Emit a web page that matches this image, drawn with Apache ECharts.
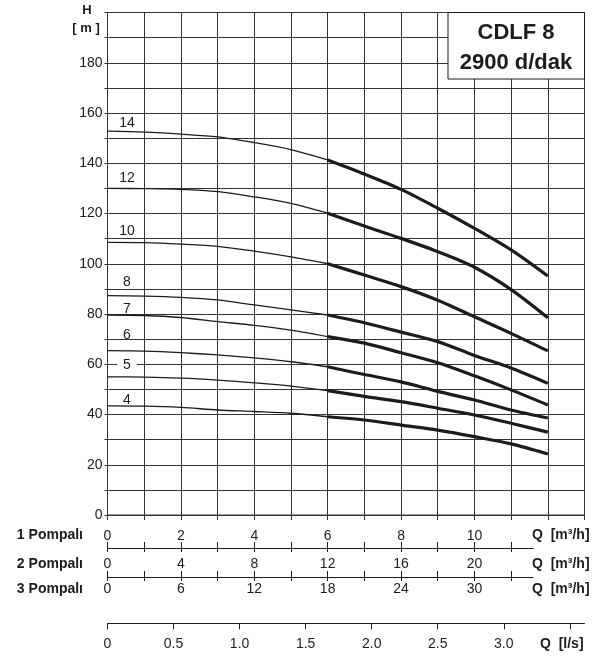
<!DOCTYPE html>
<html>
<head>
<meta charset="utf-8">
<script src="https://cdn.jsdelivr.net/npm/echarts@6/dist/echarts.min.js"></script>
<style>html,body{margin:0;padding:0;background:#fff}#c{width:608px;height:657px}</style>
</head>
<body>
<div id="c"></div>
<script>
// ---- data ----
const stages = ['14', '12', '10', '8', '7', '6', '5', '4'];
const flowQ = [0, 1, 2, 3, 4, 5, 6, 7, 8, 9, 10, 11, 12]; // m3/h (1 pump)
const h14 = [152.8, 152.4, 151.6, 150.5, 148.2, 145.4, 141.3, 135.7, 129.6, 122.1, 114.1, 105.5, 95.1];
const h12 = [130.0, 129.9, 129.6, 128.7, 126.6, 124.0, 120.1, 115.0, 110.1, 104.8, 98.6, 89.7, 78.5];
const h10 = [108.5, 108.4, 107.8, 106.9, 105.0, 102.7, 100.0, 95.5, 90.9, 85.5, 78.9, 72.3, 65.3];
const h8 = [87.3, 87.1, 86.6, 85.6, 83.6, 81.6, 79.6, 76.5, 72.8, 69.0, 63.5, 58.5, 52.4];
const h7 = [79.6, 79.4, 78.6, 77.0, 75.5, 73.6, 71.0, 68.4, 64.6, 60.6, 55.4, 49.8, 43.8];
const h6 = [65.4, 65.2, 64.6, 63.7, 62.5, 61.0, 59.0, 55.9, 53.0, 49.2, 45.8, 41.8, 38.6];
const h5 = [55.0, 54.9, 54.5, 53.7, 52.6, 51.3, 49.5, 47.2, 45.1, 42.5, 39.8, 36.5, 33.0];
const h4 = [43.4, 43.3, 42.8, 41.8, 41.2, 40.5, 39.1, 37.8, 35.8, 33.8, 31.2, 28.3, 24.3];
const thickFromQ = 6;

const yTickLabels = [0, 20, 40, 60, 80, 100, 120, 140, 160, 180];
const pumpLabelQ = [0, 2, 4, 6, 8, 10];
const pump1Labels = ['0', '2', '4', '6', '8', '10'];
const pump2Labels = ['0', '4', '8', '12', '16', '20'];
const pump3Labels = ['0', '6', '12', '18', '24', '30'];
const pumpTickQ = [0, 1, 2, 3, 4, 5, 6, 7, 8, 9, 10, 11];
const lsTickValues = [0, 0.5, 1.0, 1.5, 2.0, 2.5, 3.0, 3.5];
const lsLabelValues = [0, 0.5, 1.0, 1.5, 2.0, 2.5, 3.0];
const lsLabels = ['0', '0.5', '1.0', '1.5', '2.0', '2.5', '3.0'];

// ---- styling ----
const FONT = 'Liberation Sans, Arial, sans-serif';
const INK = '#1c1c1c';
const GRIDC = '#333';
const labelDy = [-1, -3, -4, -7, 1, -9, -5, 1];
const heads = [h14, h12, h10, h8, h7, h6, h5, h4];

const series = [];
heads.forEach((h, i) => {
  const thin = [], thick = [];
  flowQ.forEach((q, j) => {
    if (q <= thickFromQ) thin.push([q, h[j]]);
    if (q >= thickFromQ) thick.push([q, h[j]]);
  });
  thin[0] = {
    value: thin[0],
    label: {
      show: true, formatter: stages[i], position: 'top', distance: 0,
      offset: [19.5, labelDy[i]], fontSize: 14, fontFamily: FONT, color: INK,
      backgroundColor: stages[i] === '5' ? '#fff' : 'transparent',
      padding: stages[i] === '5' ? [0, 6, 0, 6] : 0
    }
  };
  series.push({
    type: 'line', xAxisIndex: 0, yAxisIndex: 0, data: thin, smooth: 0.3,
    symbol: 'circle', symbolSize: 0, showSymbol: true,
    lineStyle: { color: INK, width: 1.3 }, itemStyle: { color: INK },
    z: 3, silent: true, animation: false
  });
  series.push({
    type: 'line', xAxisIndex: 0, yAxisIndex: 0, data: thick, smooth: 0.3,
    symbol: 'none', lineStyle: { color: INK, width: 3.2, cap: 'butt' },
    z: 4, silent: true, animation: false
  });
});

const chart = echarts.init(document.getElementById('c'), null, { renderer: 'canvas' });
const labelFromList = (vals, labels) => v => {
  const k = vals.findIndex(x => Math.abs(x - v) < 1e-6);
  return k >= 0 ? labels[k] : '';
};
const txt = { fontSize: 14, fontFamily: FONT, color: INK };
const boldTxt = (text, x, y, align, size) => ({
  type: 'text', z: 101, x: x, y: y,
  style: { text: text, fontSize: size || 14, fontWeight: 'bold', fontFamily: FONT, fill: INK, align: align, verticalAlign: 'middle' }
});

const PW = 477; // plot width for 0..13
const pumpMax = 11.6;
chart.setOption({
  animation: false,
  backgroundColor: '#fff',
  grid: [
    { left: 107.5, top: 12.5, width: PW, height: 502.5, show: true, borderColor: GRIDC, borderWidth: 1, containLabel: false },
    { left: 107.5, top: 500, width: PW * pumpMax / 13, height: 48, containLabel: false },
    { left: 107.5, top: 600, width: PW, height: 23.3, containLabel: false }
  ],
  xAxis: [
    { gridIndex: 0, type: 'value', min: 0, max: 13, interval: 1,
      axisLine: { show: true, onZero: false, lineStyle: { color: GRIDC } },
      axisTick: { show: true, length: 5, lineStyle: { color: GRIDC } },
      axisLabel: { show: false },
      splitLine: { show: true, lineStyle: { color: GRIDC, width: 1 } } },
    { gridIndex: 1, type: 'value', min: 0, max: pumpMax, position: 'bottom', offset: 0,
      axisLine: { show: true, onZero: false, lineStyle: { color: INK } },
      axisTick: { show: true, inside: true, length: 6, customValues: pumpTickQ, lineStyle: { color: INK } },
      axisLabel: Object.assign({ show: true, inside: true, margin: 5, customValues: pumpLabelQ,
        formatter: labelFromList(pumpLabelQ, pump1Labels) }, txt),
      splitLine: { show: false } },
    { gridIndex: 1, type: 'value', min: 0, max: pumpMax, position: 'bottom', offset: 0,
      axisLine: { show: false, onZero: false },
      axisTick: { show: true, inside: false, length: 4, customValues: pumpTickQ, lineStyle: { color: INK } },
      axisLabel: Object.assign({ show: true, margin: 9, customValues: pumpLabelQ,
        formatter: labelFromList(pumpLabelQ, pump2Labels) }, txt),
      splitLine: { show: false } },
    { gridIndex: 1, type: 'value', min: 0, max: pumpMax, position: 'bottom', offset: 29,
      axisLine: { show: true, onZero: false, lineStyle: { color: INK } },
      axisTick: { show: true, inside: true, length: 6, customValues: pumpTickQ, lineStyle: { color: INK } },
      axisLabel: { show: false },
      splitLine: { show: false } },
    { gridIndex: 1, type: 'value', min: 0, max: pumpMax, position: 'bottom', offset: 29,
      axisLine: { show: false, onZero: false },
      axisTick: { show: true, inside: false, length: 4, customValues: pumpTickQ, lineStyle: { color: INK } },
      axisLabel: Object.assign({ show: true, margin: 5, customValues: pumpLabelQ,
        formatter: labelFromList(pumpLabelQ, pump3Labels) }, txt),
      splitLine: { show: false } },
    { gridIndex: 2, type: 'value', min: 0, max: 13 / 3.6, position: 'bottom', offset: 0,
      axisLine: { show: true, onZero: false, lineStyle: { color: INK } },
      axisTick: { show: true, length: 6, customValues: lsTickValues, lineStyle: { color: INK } },
      axisLabel: Object.assign({ show: true, margin: 14, customValues: lsLabelValues,
        formatter: labelFromList(lsLabelValues, lsLabels) }, txt),
      splitLine: { show: false } }
  ],
  yAxis: [
    { gridIndex: 0, type: 'value', min: 0, max: 200, interval: 10,
      axisLine: { show: true, onZero: false, lineStyle: { color: GRIDC } },
      axisTick: { show: true, length: 3, lineStyle: { color: GRIDC } },
      axisLabel: Object.assign({ show: true, margin: 5, customValues: yTickLabels }, txt),
      splitLine: { show: true, lineStyle: { color: GRIDC, width: 1 } } },
    { gridIndex: 1, type: 'value', show: false, min: 0, max: 1 },
    { gridIndex: 2, type: 'value', show: false, min: 0, max: 1 }
  ],
  series: series,
  graphic: [
    { type: 'rect', z: 100, shape: { x: 448, y: 12.5, width: 136.5, height: 66.5 },
      style: { fill: '#fff', stroke: INK, lineWidth: 1 } },
    boldTxt('CDLF 8', 516, 33, 'center', 22),
    boldTxt('2900 d/dak', 516, 63, 'center', 22),
    boldTxt('H', 87, 10, 'center', 13),
    boldTxt('[ m ]', 86, 28, 'center', 13),
    boldTxt('1 Pompalı', 83, 535, 'right'),
    boldTxt('2 Pompalı', 83, 564, 'right'),
    boldTxt('3 Pompalı', 83, 589, 'right'),
    boldTxt('Q  [m³/h]', 532, 535, 'left'),
    boldTxt('Q  [m³/h]', 532, 564, 'left'),
    boldTxt('Q  [m³/h]', 532, 589, 'left'),
    boldTxt('Q  [l/s]', 540, 644, 'left')
  ]
});
</script>
</body>
</html>
